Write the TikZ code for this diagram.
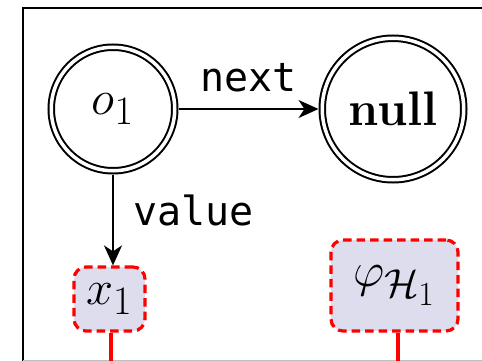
\documentclass[tikz,border=0pt]{standalone}
\usepackage{graphicx}
\usepackage{fontspec}
\newfontfamily\codefont{DejaVu Sans Mono}
\usetikzlibrary{arrows.meta}

\definecolor{boxfill}{RGB}{221,221,238}

% large math and bold labels, set at \Huge and enlarged
\newcommand{\bigsym}[1]{\scalebox{1.95}{\Huge #1}}

\tikzset{
  objnode/.style={circle, draw, double, line width=2pt, double distance=3.5pt,
    outer sep=3.75pt, inner sep=0pt},
  valbox/.style={draw=red, fill=boxfill, line width=3.2pt, dash pattern=on 8.5pt off 5pt,
    rounded corners=12pt, inner sep=0pt},
  ptr/.style={line width=2.3pt, -{Stealth[length=20pt, width=18pt, inset=6pt]}},
  fieldlabel/.style={font=\codefont\fontsize{40}{45}\selectfont, inner sep=0pt},
  redwire/.style={draw=red, line width=3.2pt}
}

\begin{document}
\begin{tikzpicture}[x=1pt, y=-1pt]
  \useasboundingbox (0,0) rectangle (482,361);

  % enclosing frame
  \draw[line width=2.2pt] (23,362) -- (23,8) -- (490,8);
  \draw[black!25, line width=1pt] (23,360.5) -- (482,360.5);

  % objects
  \node[objnode, minimum size=123.5pt] (o1) at (113,109) {\bigsym{$o_1$}};
  \node[objnode, minimum size=141.5pt] (null) at (393,109) {\bigsym{\textbf{null}}};

  % values
  \node[valbox, minimum width=71pt, minimum height=64pt] (x1) at (109.5,299) {\bigsym{$x_1$}};
  \node[valbox, minimum width=127pt, minimum height=91pt] (phi) at (394.5,285.5) {\bigsym{$\varphi_{\mathcal{H}_1}$}};

  % pointers
  \draw[ptr] (o1.east) -- (null.west)
    node[fieldlabel, midway, above=16pt] {next};
  \draw[ptr] (o1.south) -- (o1.south |- x1.north);
  \node[fieldlabel, anchor=base west] (vlabel) at (133,225) {value};

  % wires leaving the frame
  \coordinate (x1end) at (111,362);
  \coordinate (phiend) at (398,362);
  \draw[redwire] (x1end |- x1.south) -- (x1end);
  \draw[redwire] (phiend |- phi.south) -- (phiend);
\end{tikzpicture}
\end{document}
